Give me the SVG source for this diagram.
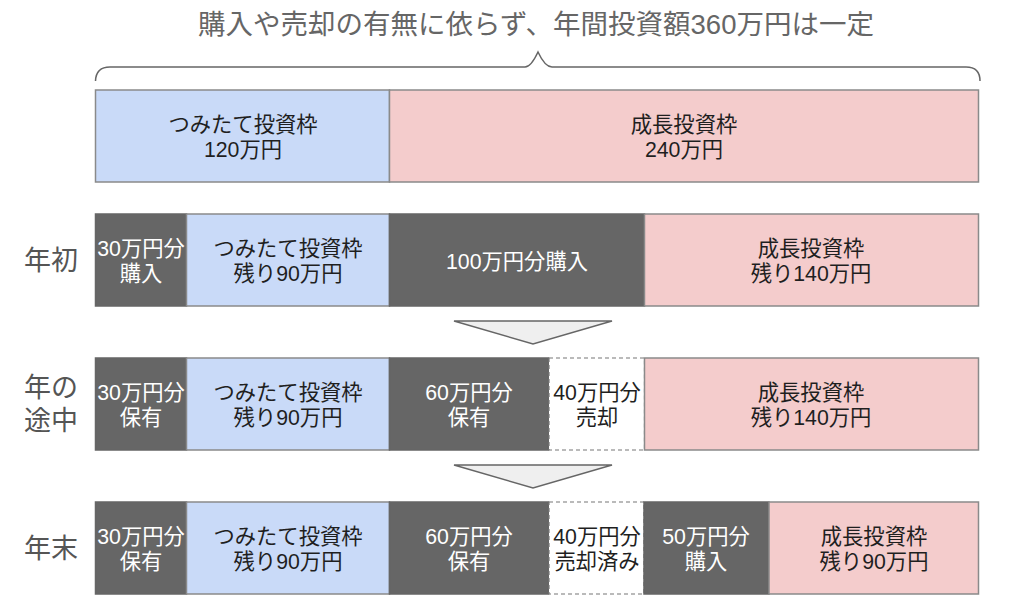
<svg xmlns="http://www.w3.org/2000/svg" width="1024" height="612" viewBox="0 0 1024 612">
<style>
text{font-family:"Liberation Sans","Noto Sans CJK JP",sans-serif;font-size:21.300px;text-anchor:middle;fill:#1f1f1f}
.b{fill:#c9daf8;stroke:#8a8a8a;stroke-width:1.5}
.r{fill:#f4cccc;stroke:#8a8a8a;stroke-width:1.5}
.d{fill:#666;stroke:#666;stroke-width:1.5}
.w{fill:#fff;stroke:#777;stroke-width:1.2;stroke-dasharray:4 3}
.a{fill:#efefef;stroke:#666;stroke-width:1.5}
.t{fill:#fff}
.l{font-size:27px;fill:#555}
</style>
<rect width="1024" height="612" fill="#fff"/>
<g id="title"><text x="536" y="34" style="font-size:27.500px;fill:#666">購入や売却の有無に依らず、年間投資額360万円は一定</text></g>
<g id="connectors">
<path d="M95.500 81 Q96 67 110 67 L525 67 Q531 67 538 52 Q545 67 552 67 L966 67 Q980 67 980 81" fill="none" stroke="#666" stroke-width="1.5"/>
<polygon class="a" points="454,321 612,321 533,344"/>
<polygon class="a" points="454,465 612,465 533,488"/>
</g>
<g id="summary-tsumitate"><rect class="b" x="95.500" y="90" width="294" height="92"/><text x="243" y="132">つみたて投資枠</text><text x="243" y="157">120万円</text></g>
<g id="summary-seicho"><rect class="r" x="389.500" y="90" width="589" height="92"/><text x="684" y="132">成長投資枠</text><text x="684" y="157">240万円</text></g>

<g id="label-start"><text class="l" x="51" y="270">年初</text></g>
<g id="r1-buy"><rect class="d" x="95.500" y="214" width="91" height="92"/><text class="t" x="141" y="256">30万円分</text><text class="t" x="141" y="281">購入</text></g>
<g id="r1-tsumitate"><rect class="b" x="186.500" y="214" width="203" height="92"/><text x="288" y="256">つみたて投資枠</text><text x="288" y="281">残り90万円</text></g>
<g id="r1-buy2"><rect class="d" x="389.500" y="214" width="255" height="92"/><text class="t" x="517" y="269">100万円分購入</text></g>
<g id="r1-seicho"><rect class="r" x="644.500" y="214" width="334" height="92"/><text x="811" y="256">成長投資枠</text><text x="811" y="281">残り140万円</text></g>

<g id="label-mid"><text class="l" x="51" y="397">年の</text><text class="l" x="51" y="430">途中</text></g>
<g id="r2-hold"><rect class="d" x="95.500" y="358" width="91" height="92"/><text class="t" x="141" y="400">30万円分</text><text class="t" x="141" y="425">保有</text></g>
<g id="r2-tsumitate"><rect class="b" x="186.500" y="358" width="203" height="92"/><text x="288" y="400">つみたて投資枠</text><text x="288" y="425">残り90万円</text></g>
<g id="r2-hold2"><rect class="d" x="389.500" y="358" width="159" height="92"/><text class="t" x="469" y="400">60万円分</text><text class="t" x="469" y="425">保有</text></g>
<g id="r2-sold"><rect class="w" x="549" y="358" width="95.500" height="92"/><text x="597" y="400">40万円分</text><text x="597" y="425">売却</text></g>
<g id="r2-seicho"><rect class="r" x="644.500" y="358" width="334" height="92"/><text x="811" y="400">成長投資枠</text><text x="811" y="425">残り140万円</text></g>

<g id="label-end"><text class="l" x="51" y="558">年末</text></g>
<g id="r3-hold"><rect class="d" x="95.500" y="502" width="91" height="92"/><text class="t" x="141" y="544">30万円分</text><text class="t" x="141" y="569">保有</text></g>
<g id="r3-tsumitate"><rect class="b" x="186.500" y="502" width="203" height="92"/><text x="288" y="544">つみたて投資枠</text><text x="288" y="569">残り90万円</text></g>
<g id="r3-hold2"><rect class="d" x="389.500" y="502" width="159" height="92"/><text class="t" x="469" y="544">60万円分</text><text class="t" x="469" y="569">保有</text></g>
<g id="r3-sold"><rect class="w" x="549" y="502" width="95" height="92"/><text x="597" y="544">40万円分</text><text x="597" y="569">売却済み</text></g>
<g id="r3-buy"><rect class="d" x="644" y="502" width="125" height="92"/><text class="t" x="706" y="544">50万円分</text><text class="t" x="706" y="569">購入</text></g>
<g id="r3-seicho"><rect class="r" x="769" y="502" width="209.500" height="92"/><text x="874" y="544">成長投資枠</text><text x="874" y="569">残り90万円</text></g>
</svg>
